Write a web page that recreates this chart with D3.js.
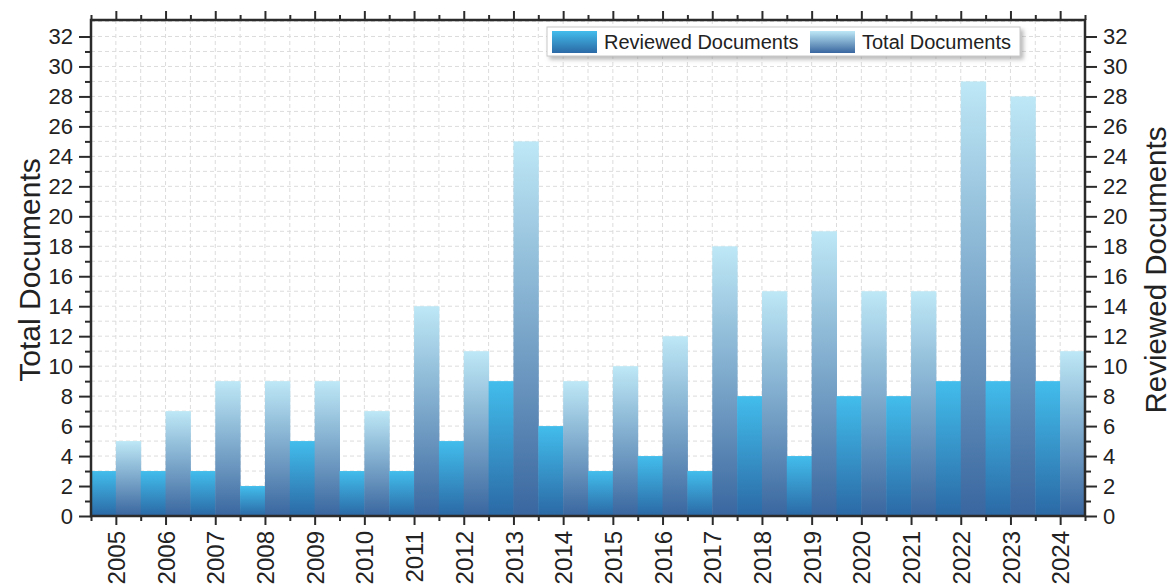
<!DOCTYPE html>
<html>
<head>
<meta charset="utf-8">
<script src="https://cdn.jsdelivr.net/npm/d3@7"></script>
<style>
  body { margin: 0; background: #fff; }
  svg { font-family: "Liberation Sans", Arial, sans-serif; }
  .axis path { display: none; }
  .axis line { stroke: #2b2b2b; stroke-width: 2; }
  .axis text { fill: #222; font-size: 22px; }
  .grid line { stroke: #dcdcdc; stroke-width: 1; stroke-dasharray: 4,3; }
</style>
</head>
<body>
<div id="chart"></div>
<script>
// data
const years = ["2005","2006","2007","2008","2009","2010","2011","2012","2013","2014",
               "2015","2016","2017","2018","2019","2020","2021","2022","2023","2024"]
const reviewed = [3,3,3,2,5,3,3,5,9,6,3,4,3,8,4,8,8,9,9,9]
const total = [5,7,9,9,9,7,14,11,25,9,10,12,18,15,19,15,15,29,28,11]
const yMajorTicks = d3.range(0, 33, 2)
const yMinorTicks = d3.range(1, 33, 2)
const seriesNames = ["Reviewed Documents", "Total Documents"]

const W = 1173, H = 588
const plot = {left: 91, right: 1085, top: 20, bottom: 516}

const svg = d3.select("#chart").append("svg")
    .attr("width", W)
    .attr("height", H)

// gradients
const defs = svg.append("defs")
const grads = [
    {id: "gradReviewed", top: "#42bdec", bottom: "#2b69a5"},
    {id: "gradTotal", top: "#bee8f6", bottom: "#39669f"}
]
grads.forEach(g => {
    let lg = defs.append("linearGradient")
        .attr("id", g.id)
        .attr("x1", 0).attr("y1", 0).attr("x2", 0).attr("y2", 1)
    lg.append("stop").attr("offset", "0%").attr("stop-color", g.top)
    lg.append("stop").attr("offset", "100%").attr("stop-color", g.bottom)
})
let shadow = defs.append("filter").attr("id", "shadow")
    .attr("x", "-5%").attr("y", "-20%").attr("width", "115%").attr("height", "160%")
shadow.append("feDropShadow")
    .attr("dx", 3).attr("dy", 3).attr("stdDeviation", 2)
    .attr("flood-color", "#888").attr("flood-opacity", 0.6)

// scales
const x0 = d3.scaleBand().domain(years).range([plot.left, plot.right]).padding(0)
const x1 = d3.scaleBand().domain(["reviewed", "total"]).range([0, x0.bandwidth()]).padding(0)
const xIdx = d3.scaleLinear().domain([0, years.length]).range([plot.left, plot.right])
const y = d3.scaleLinear().domain([0, 33.1]).range([plot.bottom, plot.top])

// grid
const grid = svg.append("g").attr("class", "grid")
grid.selectAll(".h").data(d3.range(1, 34))
    .enter().append("line")
    .attr("x1", plot.left).attr("x2", plot.right)
    .attr("y1", d => y(d)).attr("y2", d => y(d))
grid.selectAll(".v").data(d3.range(1, years.length * 2))
    .enter().append("line")
    .attr("x1", d => xIdx(d / 2)).attr("x2", d => xIdx(d / 2))
    .attr("y1", plot.top).attr("y2", plot.bottom)

// bars
const data = years.map((yr, i) => ({year: yr, reviewed: reviewed[i], total: total[i]}))
const groups = svg.selectAll(".barGroup").data(data)
    .enter().append("g")
    .attr("class", "barGroup")
    .attr("transform", d => `translate(${x0(d.year)},0)`)

groups.append("rect")
    .attr("x", x1("reviewed"))
    .attr("y", d => y(d.reviewed))
    .attr("width", x1.bandwidth() + 0.5)
    .attr("height", d => y(0) - y(d.reviewed))
    .attr("fill", "url(#gradReviewed)")

groups.append("rect")
    .attr("x", x1("total"))
    .attr("y", d => y(d.total))
    .attr("width", x1.bandwidth() + 0.5)
    .attr("height", d => y(0) - y(d.total))
    .attr("fill", "url(#gradTotal)")

// axes
const majorX = years.map((d, i) => i + 0.5)
const minorX = d3.range(0, years.length + 1)

svg.append("g").attr("class", "axis")
    .attr("transform", `translate(0,${plot.bottom})`)
    .call(d3.axisBottom(xIdx).tickValues(majorX).tickSize(9).tickSizeOuter(0)
        .tickFormat((d, i) => years[i]))
    .selectAll("text")
    .style("font-size", "24px")
    .attr("transform", "rotate(-90)")
    .attr("text-anchor", "end")
    .attr("dy", "0.36em")
    .attr("x", -15)
    .attr("y", 0)

svg.append("g").attr("class", "axis")
    .attr("transform", `translate(0,${plot.bottom})`)
    .call(d3.axisBottom(xIdx).tickValues(minorX).tickSize(5).tickFormat(""))

svg.append("g").attr("class", "axis")
    .attr("transform", `translate(0,${plot.top})`)
    .call(d3.axisTop(xIdx).tickValues(majorX).tickSize(9).tickFormat(""))

svg.append("g").attr("class", "axis")
    .attr("transform", `translate(0,${plot.top})`)
    .call(d3.axisTop(xIdx).tickValues(minorX).tickSize(5).tickFormat(""))

svg.append("g").attr("class", "axis")
    .attr("transform", `translate(${plot.left},0)`)
    .call(d3.axisLeft(y).tickValues(yMajorTicks).tickSize(12).tickPadding(6))

svg.append("g").attr("class", "axis")
    .attr("transform", `translate(${plot.left},0)`)
    .call(d3.axisLeft(y).tickValues(yMinorTicks).tickSize(6).tickFormat(""))

svg.append("g").attr("class", "axis")
    .attr("transform", `translate(${plot.right},0)`)
    .call(d3.axisRight(y).tickValues(yMajorTicks).tickSize(12).tickPadding(6))

svg.append("g").attr("class", "axis")
    .attr("transform", `translate(${plot.right},0)`)
    .call(d3.axisRight(y).tickValues(yMinorTicks).tickSize(6).tickFormat(""))

// frame
svg.append("rect")
    .attr("x", plot.left).attr("y", plot.top)
    .attr("width", plot.right - plot.left).attr("height", plot.bottom - plot.top)
    .attr("fill", "none")
    .attr("stroke", "#2b2b2b")
    .attr("stroke-width", 2.5)

// axis titles
svg.append("text")
    .attr("transform", `translate(29,${(plot.top + plot.bottom) / 2 + 2}) rotate(-90)`)
    .attr("text-anchor", "middle")
    .attr("dy", "0.35em")
    .style("font-size", "30px")
    .style("fill", "#222")
    .text("Total Documents")

svg.append("text")
    .attr("transform", `translate(1156,${(plot.top + plot.bottom) / 2 + 2}) rotate(-90)`)
    .attr("text-anchor", "middle")
    .attr("dy", "0.35em")
    .style("font-size", "29.5px")
    .style("fill", "#222")
    .text("Reviewed Documents")

// legend
const legend = svg.append("g").attr("transform", "translate(547,27)")
legend.append("rect")
    .attr("width", 473).attr("height", 29)
    .attr("fill", "#fff")
    .attr("stroke", "#c8c8c8")
    .attr("filter", "url(#shadow)")

const legendItems = [
    {name: seriesNames[0], fill: "url(#gradReviewed)", x: 5},
    {name: seriesNames[1], fill: "url(#gradTotal)", x: 263}
]
legendItems.forEach(it => {
    legend.append("rect")
        .attr("x", it.x).attr("y", 4)
        .attr("width", 45).attr("height", 22)
        .attr("fill", it.fill)
    legend.append("text")
        .attr("x", it.x + 52).attr("y", 15)
        .attr("dy", "0.35em")
        .style("font-size", "20px")
        .style("fill", "#222")
        .text(it.name)
})
</script>
</body>
</html>
